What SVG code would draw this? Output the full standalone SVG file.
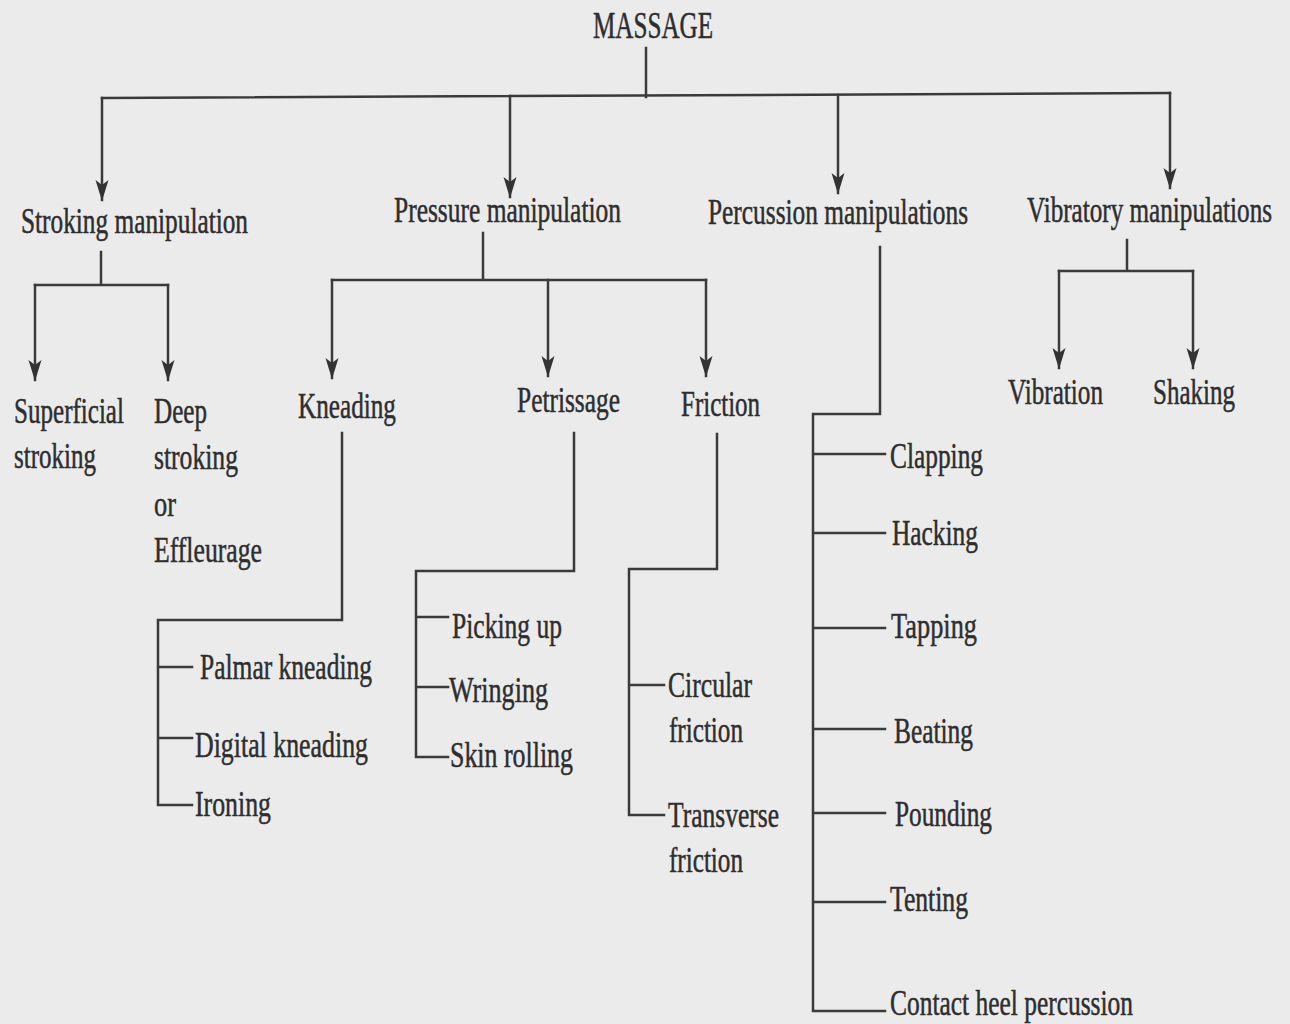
<svg xmlns="http://www.w3.org/2000/svg" width="1290" height="1024" viewBox="0 0 1290 1024">
<defs>
<style>
.bg{fill:#ebebec}
.ln{fill:none;stroke:#3a3a3a;stroke-width:2.5;stroke-linecap:square;stroke-linejoin:miter}
.ar{marker-end:url(#ah)}
text{font-family:"Liberation Serif","Times New Roman",serif;fill:#2e2e2e;stroke:#2e2e2e;stroke-width:0.5;font-size:35px}
.big{font-size:37px}
</style>
<marker id="ah" markerUnits="userSpaceOnUse" viewBox="0 -7 22 14" markerWidth="22" markerHeight="14" refX="20" refY="0" orient="auto">
<path d="M0,-6.5 L21,0 L0,6.5 L5,0 z" fill="#333"/>
</marker>
</defs>
<rect class="bg" x="0" y="0" width="1290" height="1024"/>

<g id="connectors">
<path class="ln" d="M646,48 V97"/>
<path class="ln" d="M102,98 L1170,93"/>
<path class="ln ar" d="M102,98 V200"/>
<path class="ln ar" d="M510,96 V197"/>
<path class="ln ar" d="M838,95 V193"/>
<path class="ln ar" d="M1170,93 V188"/>

<path class="ln" d="M101,252 V285 M35,285 H168"/>
<path class="ln ar" d="M35,285 V380"/>
<path class="ln ar" d="M168,285 V380"/>

<path class="ln" d="M483,233 V280 M332,280 H706"/>
<path class="ln ar" d="M332,280 V378"/>
<path class="ln ar" d="M548,280 V376"/>
<path class="ln ar" d="M706,280 V376"/>

<path class="ln" d="M1127,240 V271 M1059,271 H1193"/>
<path class="ln ar" d="M1059,271 V368"/>
<path class="ln ar" d="M1193,271 V368"/>

<path class="ln" d="M342,433 V620 H158 V805 H192 M158,667 H192 M158,738 H192"/>
<path class="ln" d="M574,433 V571 H416 V757 H448 M416,617 H448 M416,687 H448"/>
<path class="ln" d="M717,434 V569 H629 V815 H664 M629,685 H664"/>
<path class="ln" d="M880,247 V414 H813 V1011 H885 M813,454 H885 M813,533 H885 M813,628 H885 M813,729 H885 M813,813 H885 M813,902 H885"/>
</g>

<g id="massage"><text class="big" transform="translate(593,38) scale(0.74,1)" textLength="162.2" lengthAdjust="spacingAndGlyphs">MASSAGE</text></g>

<g id="stroking"><text transform="translate(21,233) scale(0.74,1)" textLength="306.8" lengthAdjust="spacingAndGlyphs">Stroking manipulation</text></g>
<g id="pressure"><text transform="translate(394,222) scale(0.74,1)" textLength="306.8" lengthAdjust="spacingAndGlyphs">Pressure manipulation</text></g>
<g id="percussion"><text transform="translate(708,224) scale(0.74,1)" textLength="351.4" lengthAdjust="spacingAndGlyphs">Percussion manipulations</text></g>
<g id="vibratory"><text transform="translate(1027,222) scale(0.74,1)" textLength="331.1" lengthAdjust="spacingAndGlyphs">Vibratory manipulations</text></g>

<g id="superficial">
<text transform="translate(14,423) scale(0.74,1)" textLength="148.6" lengthAdjust="spacingAndGlyphs">Superficial</text>
<text transform="translate(14,468) scale(0.74,1)" textLength="110.8" lengthAdjust="spacingAndGlyphs">stroking</text>
</g>
<g id="deep">
<text transform="translate(154,423) scale(0.74,1)" textLength="71.6" lengthAdjust="spacingAndGlyphs">Deep</text>
<text transform="translate(154,469) scale(0.74,1)" textLength="113.5" lengthAdjust="spacingAndGlyphs">stroking</text>
<text transform="translate(154,516) scale(0.74,1)" textLength="29.7" lengthAdjust="spacingAndGlyphs">or</text>
<text transform="translate(154,562) scale(0.74,1)" textLength="145.9" lengthAdjust="spacingAndGlyphs">Effleurage</text>
</g>
<g id="kneading"><text transform="translate(298,418) scale(0.74,1)" textLength="132.4" lengthAdjust="spacingAndGlyphs">Kneading</text></g>
<g id="petrissage"><text transform="translate(517,412) scale(0.74,1)" textLength="139.2" lengthAdjust="spacingAndGlyphs">Petrissage</text></g>
<g id="friction"><text transform="translate(681,416) scale(0.74,1)" textLength="106.8" lengthAdjust="spacingAndGlyphs">Friction</text></g>
<g id="vibration"><text transform="translate(1008,404) scale(0.74,1)" textLength="128.4" lengthAdjust="spacingAndGlyphs">Vibration</text></g>
<g id="shaking"><text transform="translate(1153,404) scale(0.74,1)" textLength="110.8" lengthAdjust="spacingAndGlyphs">Shaking</text></g>

<g id="palmar"><text transform="translate(200,679) scale(0.74,1)" textLength="232.4" lengthAdjust="spacingAndGlyphs">Palmar kneading</text></g>
<g id="digital"><text transform="translate(195,757) scale(0.74,1)" textLength="233.8" lengthAdjust="spacingAndGlyphs">Digital kneading</text></g>
<g id="ironing"><text transform="translate(195,816) scale(0.74,1)" textLength="102.7" lengthAdjust="spacingAndGlyphs">Ironing</text></g>

<g id="picking"><text transform="translate(452,638) scale(0.74,1)" textLength="148.6" lengthAdjust="spacingAndGlyphs">Picking up</text></g>
<g id="wringing"><text transform="translate(449,702) scale(0.74,1)" textLength="133.8" lengthAdjust="spacingAndGlyphs">Wringing</text></g>
<g id="skin"><text transform="translate(450,767) scale(0.74,1)" textLength="166.2" lengthAdjust="spacingAndGlyphs">Skin rolling</text></g>

<g id="circular">
<text transform="translate(668,697) scale(0.74,1)" textLength="113.5" lengthAdjust="spacingAndGlyphs">Circular</text>
<text transform="translate(669,742) scale(0.74,1)" textLength="100" lengthAdjust="spacingAndGlyphs">friction</text>
</g>
<g id="transverse">
<text transform="translate(668,827) scale(0.74,1)" textLength="150" lengthAdjust="spacingAndGlyphs">Transverse</text>
<text transform="translate(669,872) scale(0.74,1)" textLength="100" lengthAdjust="spacingAndGlyphs">friction</text>
</g>

<g id="clapping"><text transform="translate(890,468) scale(0.74,1)" textLength="125.7" lengthAdjust="spacingAndGlyphs">Clapping</text></g>
<g id="hacking"><text transform="translate(892,545) scale(0.74,1)" textLength="116.2" lengthAdjust="spacingAndGlyphs">Hacking</text></g>
<g id="tapping"><text transform="translate(891,638) scale(0.74,1)" textLength="116.2" lengthAdjust="spacingAndGlyphs">Tapping</text></g>
<g id="beating"><text transform="translate(894,743) scale(0.74,1)" textLength="106.8" lengthAdjust="spacingAndGlyphs">Beating</text></g>
<g id="pounding"><text transform="translate(895,826) scale(0.74,1)" textLength="131.1" lengthAdjust="spacingAndGlyphs">Pounding</text></g>
<g id="tenting"><text transform="translate(890,911) scale(0.74,1)" textLength="105.4" lengthAdjust="spacingAndGlyphs">Tenting</text></g>
<g id="contact"><text transform="translate(890,1015) scale(0.74,1)" textLength="328.4" lengthAdjust="spacingAndGlyphs">Contact heel percussion</text></g>
</svg>
